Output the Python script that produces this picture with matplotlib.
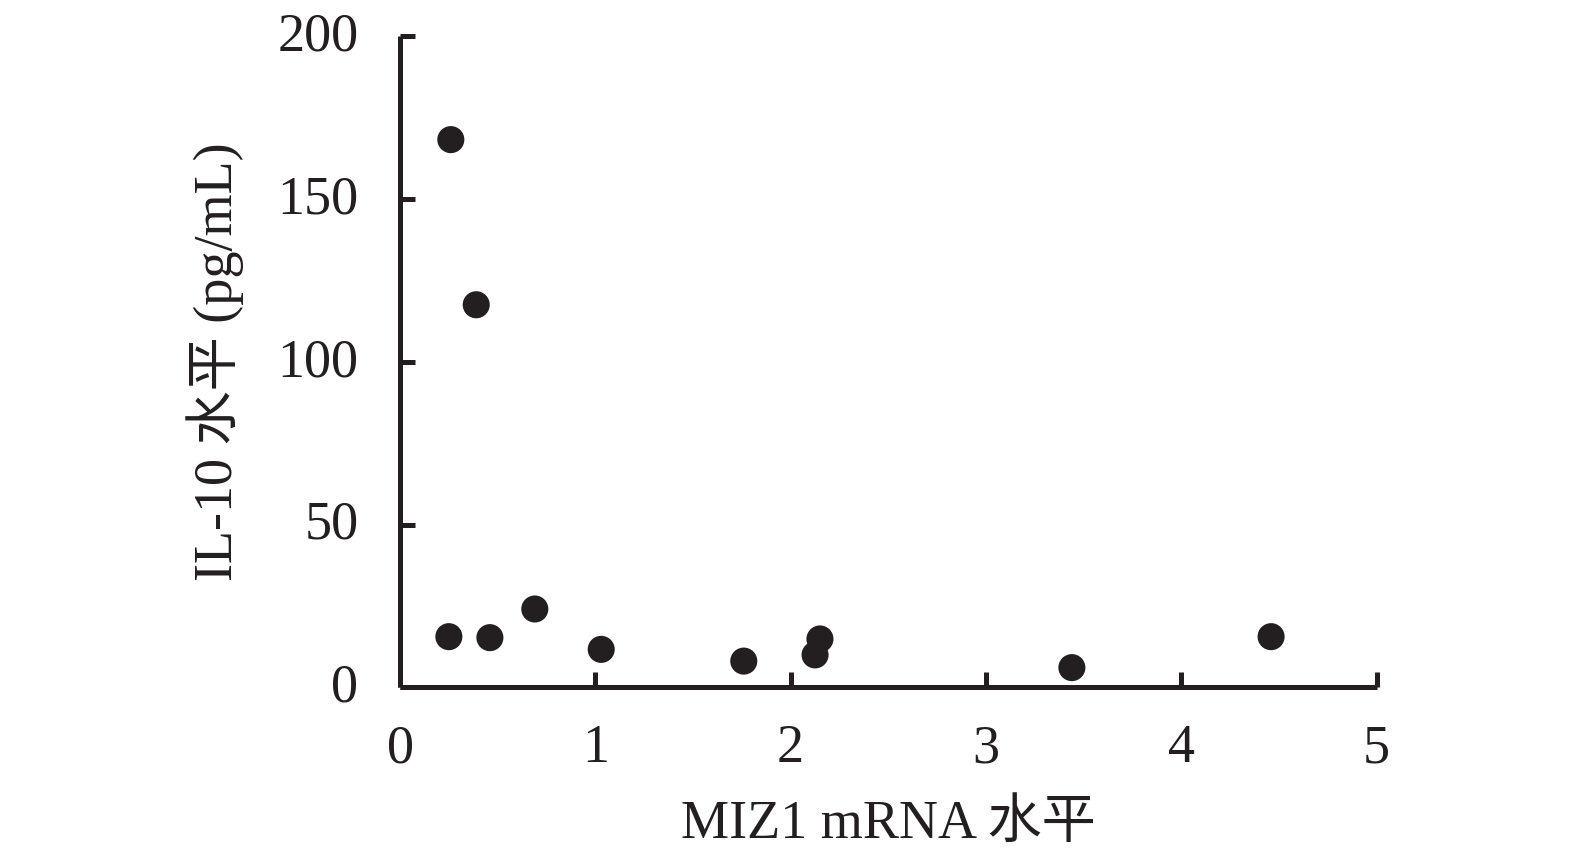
import matplotlib
matplotlib.use("Agg")
import matplotlib.pyplot as plt
import matplotlib.transforms as mtransforms

plt.rcParams['font.family'] = ['Liberation Serif', 'Noto Sans CJK SC']

# data
miz1 = [0.26, 0.39, 0.25, 0.46, 0.69, 1.03, 1.76, 2.125, 2.15, 3.44, 4.46]
il10 = [168.2, 117.5, 15.6, 15.3, 24.1, 11.7, 8.1, 10.0, 14.9, 6.1, 15.6]
xticks = [0, 1, 2, 3, 4, 5]
yticks = [0, 50, 100, 150, 200]

ink = '#231f20'

fig = plt.figure(figsize=(15.75, 8.6), dpi=100)
ax = fig.add_axes([0.254, 0.2006, 0.62, 0.7575])

ax.scatter(miz1, il10, s=380, color=ink, edgecolors='none', zorder=3, clip_on=False)

ax.set_xlim(0, 5)
ax.set_ylim(0, 200)
ax.set_xticks(xticks)
ax.set_yticks(yticks)

for side in ['top', 'right']:
    ax.spines[side].set_visible(False)
for side in ['left', 'bottom']:
    ax.spines[side].set_linewidth(3.6)
    ax.spines[side].set_color(ink)
    ax.spines[side].set_capstyle('butt')

ax.tick_params(axis='both', direction='in', length=11, width=3.6, color=ink,
               labelsize=39, labelcolor=ink)
ax.tick_params(axis='x', pad=26)
ax.tick_params(axis='y', pad=30)

# nudge y tick labels up a few pixels, like the original
shift = mtransforms.ScaledTranslation(0, 5 / 100, fig.dpi_scale_trans)
for lab in ax.get_yticklabels():
    lab.set_transform(lab.get_transform() + shift)

ax.set_xlabel('MIZ1 mRNA 水平', fontsize=39, color=ink, labelpad=18)
ax.set_ylabel('IL-10 水平 (pg/mL)', fontsize=39, color=ink, labelpad=24)

fig.savefig('out.png', dpi=100)
